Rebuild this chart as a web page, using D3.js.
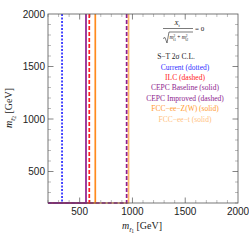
<!DOCTYPE html>
<html><head><meta charset="utf-8">
<script src="https://cdn.jsdelivr.net/npm/d3@7"></script>
<style>body{margin:0;background:#fff}svg{display:block}</style>
</head><body>
<script>
// Data
const xDomain = [200, 2000];
const yDomain = [200, 2000];
const xTicks = [500, 1000, 1500, 2000];
const yTicks = [500, 1000, 1500, 2000];
const seriesNames = ["FCC−ee−t (solid)", "FCC−ee−Z(W) (solid)", "Current (dotted)", "ILC (dashed)", "CEPC Baseline (solid)", "CEPC Improved (dashed)"];
const seriesBound = [963, 648, 333, 591, 560, 945];   // m_t1 lower bound (GeV)
const seriesColor = ["#ffb468", "#ff8a1e", "#2b2bff", "#ff1f1f", "#8e1e8e", "#8e1e8e"];
const seriesDash = ["", "", "2,1.5", "4,2", "", "4,2"];
const legendLines = ["Current (dotted)", "ILC (dashed)", "CEPC Baseline (solid)", "CEPC Improved (dashed)", "FCC−ee−Z(W) (solid)", "FCC−ee−t (solid)"];
const legendColors = ["#3030ff", "#ff2020", "#8e1e8e", "#8e1e8e", "#ff9a2e", "#ffbf80"];

const W = 249, H = 240;
const m = {l: 48, r: 11, t: 14, b: 37};
const svg = d3.select("body").append("svg").attr("width", W).attr("height", H);
const x = d3.scaleLinear().domain(xDomain).range([m.l, W - m.r]);
const y = d3.scaleLinear().domain(yDomain).range([H - m.b, m.t]);

// ticks
const minor = d3.range(200, 2001, 100);
const g = svg.append("g");
function tickSet(vals, len, col) {
  vals.forEach(v => {
    g.append("line").attr("x1", x(v)).attr("x2", x(v)).attr("y1", y(200)).attr("y2", y(200) - len).attr("stroke", col).attr("stroke-width", 0.8);
    g.append("line").attr("x1", x(v)).attr("x2", x(v)).attr("y1", y(2000)).attr("y2", y(2000) + len).attr("stroke", col).attr("stroke-width", 0.8);
    g.append("line").attr("y1", y(v)).attr("y2", y(v)).attr("x1", x(200)).attr("x2", x(200) + len).attr("stroke", col).attr("stroke-width", 0.8);
    g.append("line").attr("y1", y(v)).attr("y2", y(v)).attr("x1", x(2000)).attr("x2", x(2000) - len).attr("stroke", col).attr("stroke-width", 0.8);
  });
}
tickSet(minor.filter(v => v % 500 !== 0), 3, "#aaa");
tickSet([500, 1000, 1500], 5.5, "#666");

// contours
const line = d3.line().x(d => x(d[0])).y(d => y(d[1]));
seriesBound.forEach((b, i) => {
  svg.append("path")
    .attr("d", line([[b, 2000], [b, 200], [200, 200]]))
    .attr("fill", "none").attr("stroke", seriesColor[i]).attr("stroke-width", 1.7)
    .attr("stroke-dasharray", seriesDash[i] || null);
});

// frame
svg.append("rect").attr("x", x(200)).attr("y", y(2000)).attr("width", x(2000) - x(200)).attr("height", y(200) - y(2000))
  .attr("fill", "none").attr("stroke", "#555").attr("stroke-width", 0.8);

// tick labels
const tf = "Liberation Sans, Arial, sans-serif";
xTicks.forEach(v => svg.append("text").attr("x", x(v)).attr("y", y(200) + 12).attr("text-anchor", "middle")
  .attr("font-family", tf).attr("font-size", 10).attr("fill", "#222").text(v));
yTicks.forEach(v => svg.append("text").attr("x", m.l - 3).attr("y", y(v) + 3.5).attr("text-anchor", "end")
  .attr("font-family", tf).attr("font-size", 10).attr("fill", "#222").text(v));

// axis labels
const sf = "Liberation Serif, Times New Roman, serif";
function massLabel(sel, idx) {
  sel.append("tspan").attr("font-style", "italic").text("m");
  sel.append("tspan").attr("font-size", 7).attr("dy", 3).attr("font-style", "italic").text("t̃");
  sel.append("tspan").attr("font-size", 5.5).attr("dy", 1).text(idx);
  sel.append("tspan").attr("dy", -4).text(" [GeV]");
}
const xl = svg.append("text").attr("x", 142).attr("y", 229).attr("text-anchor", "middle")
  .attr("font-family", sf).attr("font-size", 10).attr("fill", "#222");
massLabel(xl, "1");
const yl = svg.append("text").attr("transform", "translate(12,108) rotate(-90)").attr("text-anchor", "middle")
  .attr("font-family", sf).attr("font-size", 10).attr("fill", "#222");
massLabel(yl, "2");

// formula
const fg = svg.append("g").attr("font-family", sf).attr("fill", "#222");
fg.append("text").attr("x", 177).attr("y", 25).attr("text-anchor", "middle").attr("font-size", 7)
  .html('<tspan font-style="italic">X</tspan><tspan font-size="4.5" dy="1.5">t</tspan>');
fg.append("line").attr("x1", 163).attr("x2", 193).attr("y1", 28.5).attr("y2", 28.5).attr("stroke", "#222").attr("stroke-width", 0.6);
fg.append("text").attr("x", 195).attr("y", 31).attr("font-size", 7).text("= 0");
fg.append("path").attr("d", "M163,38.5 L165,37.5 L167,43 L169,32 L193,32").attr("fill", "none").attr("stroke", "#222").attr("stroke-width", 0.6);
fg.append("text").attr("x", 169.5).attr("y", 38.5).attr("font-size", 5.5)
  .html('<tspan font-style="italic">m</tspan><tspan font-size="3.5" dy="-2">2</tspan><tspan font-size="3.5" dx="-2" dy="4">t̃1</tspan><tspan dy="-2"> + </tspan><tspan font-style="italic">m</tspan><tspan font-size="3.5" dy="-2">2</tspan><tspan font-size="3.5" dx="-2" dy="4">t̃2</tspan>');

// legend text
svg.append("text").attr("x", 176).attr("y", 59).attr("text-anchor", "middle").attr("font-family", sf)
  .attr("font-size", 7.5).attr("fill", "#222").text("S−T 2σ C.L.");
legendLines.forEach((t, i) => {
  svg.append("text").attr("x", 185).attr("y", 69.5 + i * 10.4).attr("text-anchor", "middle")
    .attr("font-family", sf).attr("font-size", 7.5).attr("fill", legendColors[i]).text(t);
});
</script>
</body></html>
